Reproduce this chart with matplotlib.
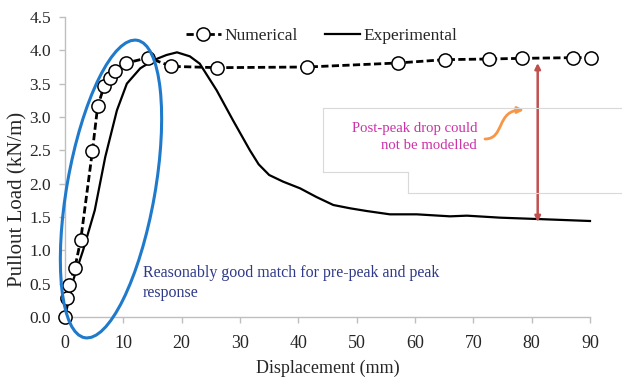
import matplotlib
matplotlib.use("Agg")
import matplotlib.pyplot as plt
from matplotlib.patches import Ellipse, FancyArrowPatch
from matplotlib.path import Path
from matplotlib.lines import Line2D
from matplotlib.transforms import ScaledTranslation

# ---- data ----
num_x = [0, 0.3, 0.7, 1.7, 2.7, 4.7, 5.6, 6.7, 7.7, 8.6, 10.5, 14.3, 18.2, 26.0,
         41.5, 57.0, 65.1, 72.7, 78.3, 87.1, 90.2]
num_y = [0, 0.28, 0.48, 0.74, 1.16, 2.49, 3.16, 3.46, 3.58, 3.69, 3.81, 3.89, 3.76,
         3.74, 3.75, 3.81, 3.86, 3.87, 3.88, 3.89, 3.89]

exp_x = [0, 1.4, 3.1, 5.1, 6.9, 8.9, 10.6, 12.9, 15.1, 17.4, 19.2, 21.4, 23.1, 26.0,
         28.8, 31.7, 33.2, 35.0, 37.4, 40.3, 43.1, 46.0, 48.9, 51.7, 55.7, 60.3, 66.0,
         68.9, 74.6, 80.9, 90.0]
exp_y = [0, 0.55, 1.0, 1.6, 2.4, 3.1, 3.5, 3.73, 3.85, 3.93, 3.97, 3.91, 3.80, 3.40,
         2.95, 2.50, 2.29, 2.13, 2.03, 1.93, 1.80, 1.68, 1.63, 1.59, 1.54, 1.54, 1.51,
         1.52, 1.49, 1.47, 1.44]

x_ticks = [0, 10, 20, 30, 40, 50, 60, 70, 80, 90]
y_ticks = [0.0, 0.5, 1.0, 1.5, 2.0, 2.5, 3.0, 3.5, 4.0, 4.5]

SERIF = ["Liberation Serif", "DejaVu Serif"]
plt.rcParams['font.family'] = SERIF

W, H = 622, 381
fig = plt.figure(figsize=(W / 100, H / 100), dpi=100)
ax = fig.add_axes([65 / W, 1 - 317 / H, 525 / W, 300 / H])

ax.plot(exp_x, exp_y, color='black', lw=1.6, label='Experimental', clip_on=False, zorder=3)
ax.plot(num_x, num_y, color='black', lw=2.0, ls=(0, (2.6, 1.2)), marker='o', ms=9.5,
        mfc='white', mec='black', mew=1.1, label='Numerical', clip_on=False, zorder=4)

ax.set_xlim(0, 90)
ax.set_ylim(0, 4.5)
ax.set_xticks(x_ticks)
ax.set_yticks(y_ticks)
ax.set_yticklabels([f"{v:.1f}" for v in y_ticks])
for s in ['top', 'right']:
    ax.spines[s].set_visible(False)
for s in ['left', 'bottom']:
    ax.spines[s].set_color('#bfbfbf')
    ax.spines[s].set_linewidth(1.0)
ax.tick_params(axis='both', colors='#bfbfbf', length=4, width=1.0,
               labelcolor='#262626')
ax.tick_params(axis='x', pad=9, labelsize=13)
ax.tick_params(axis='y', pad=6, labelsize=12.5)

ax.set_xlabel('Displacement (mm)', fontsize=13, color='#262626')
ax.set_ylabel('Pullout Load (kN/m)', fontsize=15, color='#262626')
ax.xaxis.set_label_coords(0.5, -(368 - 317) / 300)
ax.yaxis.set_label_coords(-(65 - 18) / 525, (317 - 199) / 300)
ax.xaxis.label.set_va('center')
ax.yaxis.label.set_va('center')

# legend
handles, labels = ax.get_legend_handles_labels()
leg = fig.legend([handles[1], handles[0]], [labels[1], labels[0]], ncol=2, frameon=False,
                 loc='center left', bbox_to_anchor=(186 / W, 1 - 36 / H),
                 borderpad=0, borderaxespad=0, handlelength=2.0, handletextpad=0.2,
                 columnspacing=1.6, fontsize=12.5, numpoints=1)
for t in leg.get_texts():
    t.set_color('#262626')


def px2data(px, py):
    return ((px - 65) / 525 * 90, (317 - py) / 300 * 4.5)


# faint text-box outline
box_pts = [[(323, 108), (622, 108)], [(323, 108), (323, 172)], [(323, 172), (408, 172)],
           [(408, 172), (408, 193)], [(408, 193), (622, 193)]]
for (a, b) in box_pts:
    fig.add_artist(Line2D([a[0] / W, b[0] / W], [1 - a[1] / H, 1 - b[1] / H],
                          transform=fig.transFigure, color='#d9d9d9', lw=0.8, zorder=1))

# blue ellipse (pixel-sized, centred in data space)
cx, cy = px2data(111, 189)
ell = Ellipse((0, 0), width=0.88, height=3.02, angle=-10, fill=False,
              edgecolor='#1f7acb', lw=2.2,
              transform=fig.dpi_scale_trans + ScaledTranslation(cx, cy, ax.transData),
              clip_on=False, zorder=5)
ax.add_artist(ell)

# texts
tx, ty = px2data(143, 283)
ax.text(tx, ty, 'Reasonably good match for pre-peak and peak\nresponse', fontsize=11.5,
        color='#2e3a87', ha='left', va='center', linespacing=1.3)
tx, ty = px2data(477, 137)
ax.text(tx, ty, 'Post-peak drop could\nnot be modelled', fontsize=10.6,
        color='#cc33a8', ha='right', va='center', linespacing=1.4)

# orange curved arrow
p0 = px2data(485, 139)
p1 = px2data(505, 139)
p2 = px2data(496, 110)
p3 = px2data(524, 110)
path = Path([p0, p1, p2, p3], [Path.MOVETO, Path.CURVE4, Path.CURVE4, Path.CURVE4])
oarrow = FancyArrowPatch(path=path, arrowstyle='-|>', mutation_scale=9, color='#f79646',
                         lw=2.0, transform=ax.transData, clip_on=False, zorder=5)
ax.add_patch(oarrow)

# red double arrow
ra = px2data(537.7, 222)
rb = px2data(537.7, 63)
ax.annotate('', xy=rb, xytext=ra,
            arrowprops=dict(arrowstyle='<|-|>', color='#c0504d', lw=1.8,
                            mutation_scale=8, shrinkA=0, shrinkB=0), zorder=5,
            annotation_clip=False)

fig.savefig('out.png', dpi=100)
